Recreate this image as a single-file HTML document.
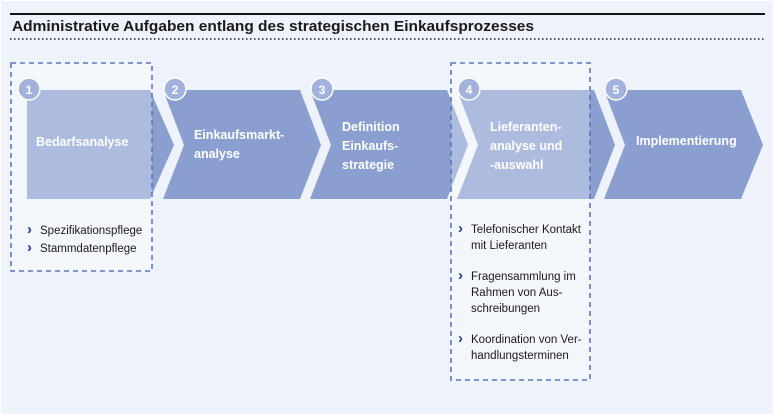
<!DOCTYPE html>
<html><head><meta charset="utf-8"><style>
body{margin:0;background:#fff;}
svg{display:block;}
text{font-family:"Liberation Sans",sans-serif;}
.w{fill:#fff;font-weight:bold;font-size:12.5px;}
.l{fill:#1a1a1a;font-size:11.5px;}
.n{fill:#fff;font-weight:bold;font-size:12px;}
.b{fill:#1d3f86;font-weight:bold;font-size:15px;}
</style></head><body>
<svg width="775" height="415" viewBox="0 0 775 415">
<rect x="1" y="1" width="772" height="413" fill="#eef2fa"/>
<rect x="10" y="13" width="755" height="2" fill="#111"/>
<text x="12" y="31" font-size="15" font-weight="bold" fill="#1a1a1a" textLength="522" lengthAdjust="spacingAndGlyphs">Administrative Aufgaben entlang des strategischen Einkaufsprozesses</text>
<line x1="10" y1="39" x2="765" y2="39" stroke="#222" stroke-width="1.5" stroke-dasharray="1.5,2.5"/>
<g fill="#8a9ed0">
<polygon points="27,90 150,90 174,145 150,199 27,199"/>
<polygon points="163,90 300,90 321,145 300,199 163,199 184,145"/>
<polygon points="310,90 447,90 468,145 447,199 310,199 331,145"/>
<polygon points="457,90 594,90 615,145 594,199 457,199 478,145"/>
<polygon points="604,90 741,90 763,145 741,199 604,199 625,145"/>
</g>
<rect x="11" y="63" width="141" height="208" fill="#fff" fill-opacity="0.3" stroke="#5b77bd" stroke-width="1.6" stroke-dasharray="5,4"/>
<rect x="451" y="63" width="139" height="317" fill="#fff" fill-opacity="0.3" stroke="#5b77bd" stroke-width="1.6" stroke-dasharray="5,4"/>
<g fill="#a3b2dc" stroke="#fff" stroke-width="1.5">
<circle cx="29" cy="89" r="11"/><circle cx="175" cy="89" r="11"/><circle cx="322" cy="89" r="11"/><circle cx="469" cy="89" r="11"/><circle cx="616" cy="89" r="11"/>
</g>
<g class="n" text-anchor="middle">
<text x="29" y="94">1</text><text x="175" y="94">2</text><text x="322" y="94">3</text><text x="469" y="94">4</text><text x="616" y="94">5</text>
</g>
<text class="w" x="36" y="146">Bedarfsanalyse</text>
<text class="w" x="194" y="139">Einkaufsmarkt-</text>
<text class="w" x="194" y="158">analyse</text>
<text class="w" x="342" y="131">Definition</text>
<text class="w" x="342" y="150">Einkaufs-</text>
<text class="w" x="342" y="169">strategie</text>
<text class="w" x="490" y="131">Lieferanten-</text>
<text class="w" x="490" y="150">analyse und</text>
<text class="w" x="490" y="169">-auswahl</text>
<text class="w" x="636" y="145">Implementierung</text>
<text class="b" x="27" y="234">›</text><text class="l" x="40" y="234">Spezifikationspflege</text>
<text class="b" x="27" y="252">›</text><text class="l" x="40" y="252">Stammdatenpflege</text>
<text class="b" x="458" y="233">›</text><text class="l" x="471" y="233">Telefonischer Kontakt</text>
<text class="l" x="471" y="249">mit Lieferanten</text>
<text class="b" x="458" y="280">›</text><text class="l" x="471" y="280">Fragensammlung im</text>
<text class="l" x="471" y="296">Rahmen von Aus-</text>
<text class="l" x="471" y="312">schreibungen</text>
<text class="b" x="458" y="343">›</text><text class="l" x="471" y="343">Koordination von Ver-</text>
<text class="l" x="471" y="359">handlungsterminen</text>
</svg>
</body></html>
